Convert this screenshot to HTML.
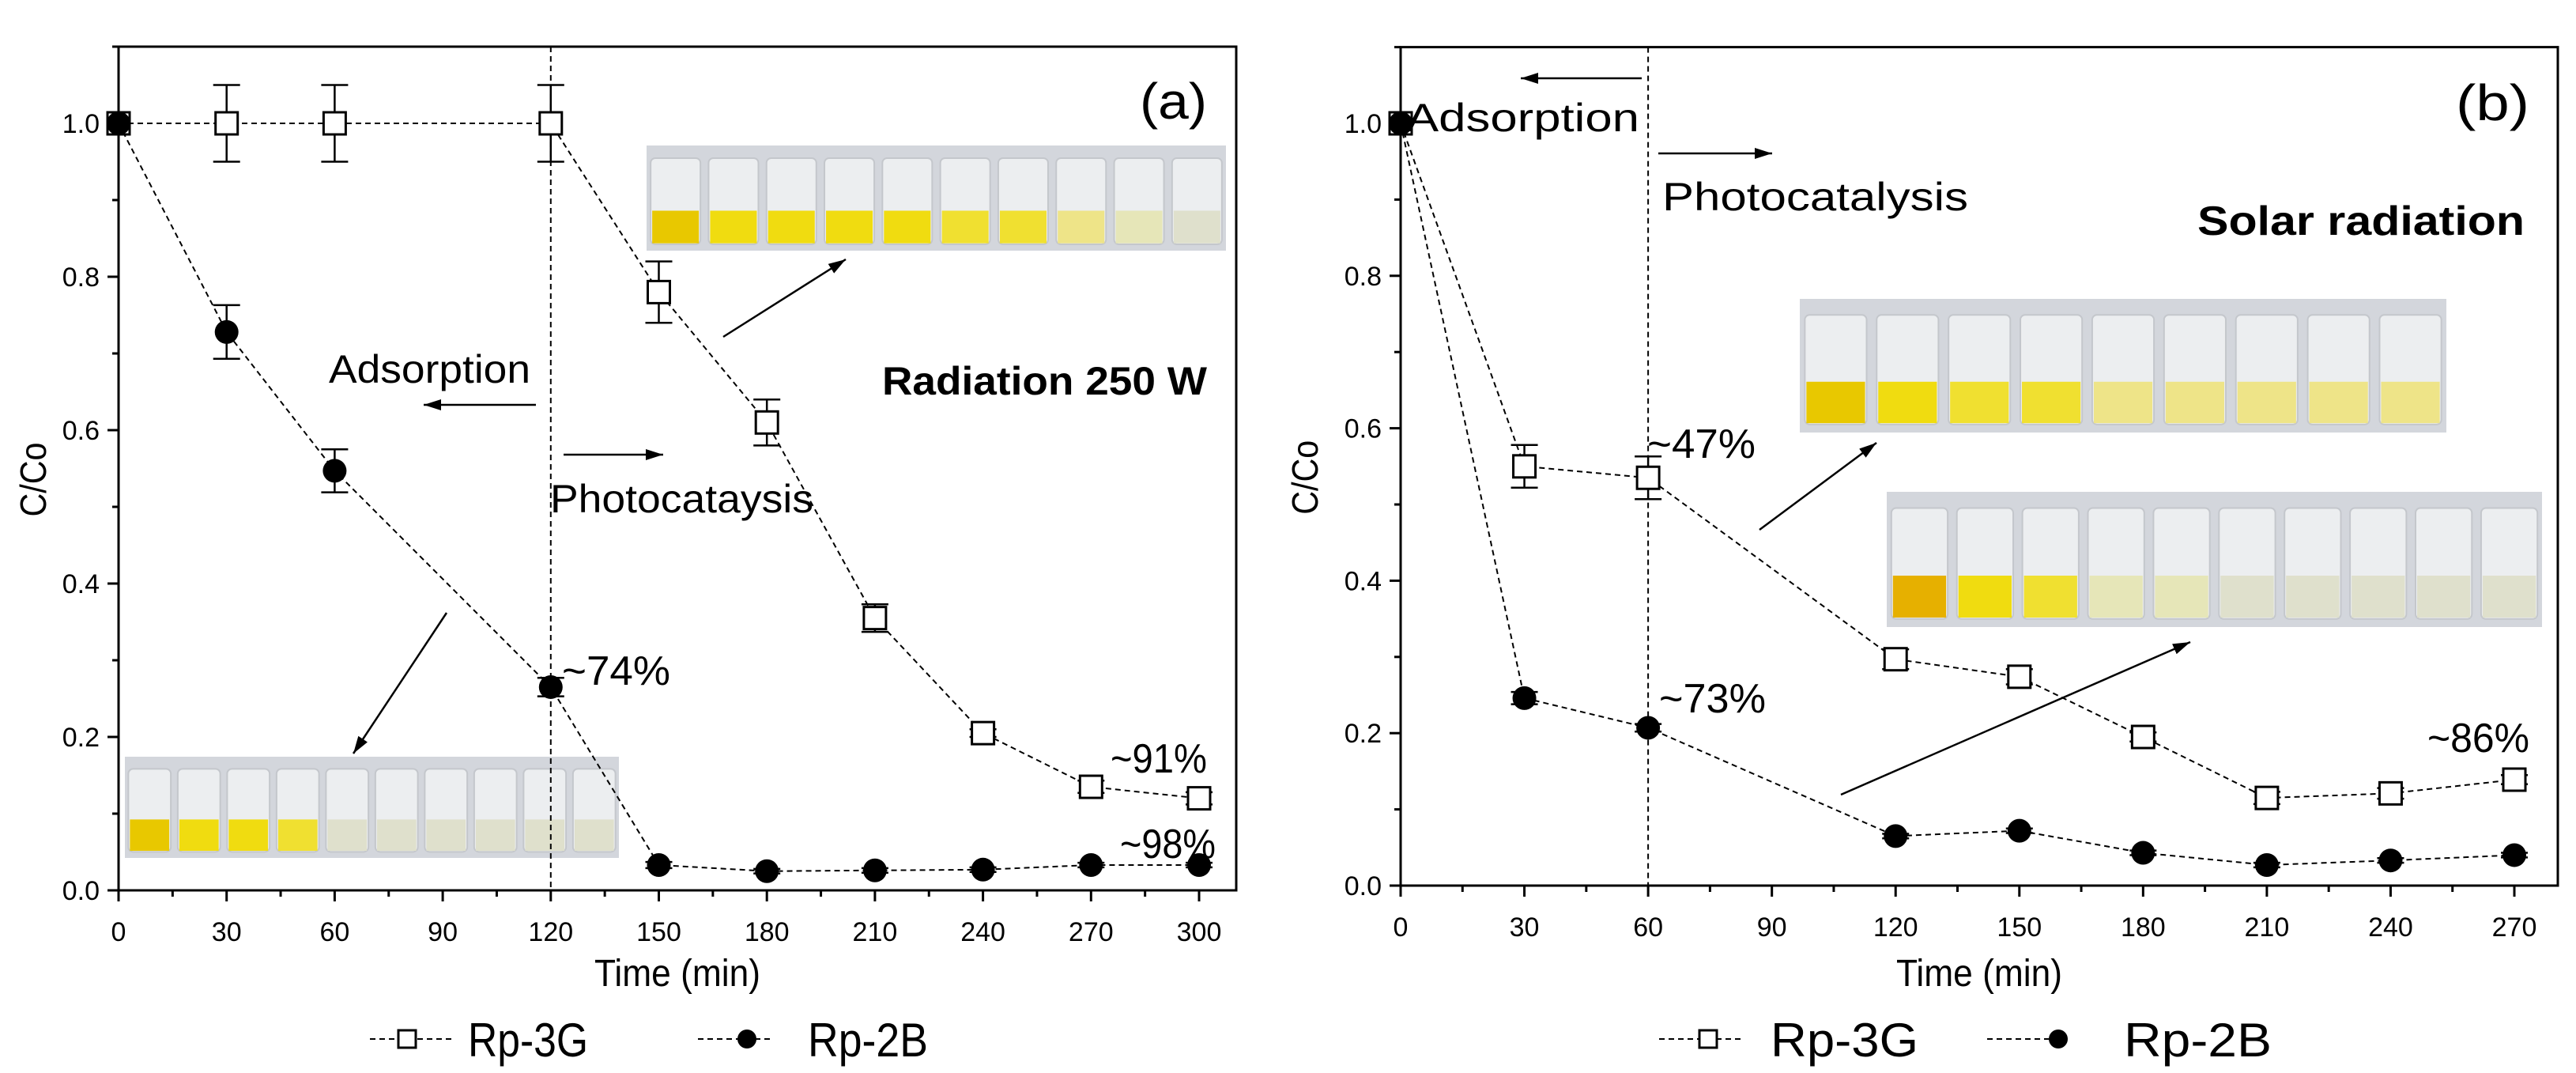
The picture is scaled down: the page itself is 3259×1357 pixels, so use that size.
<!DOCTYPE html>
<html><head><meta charset="utf-8"><style>
html,body{margin:0;padding:0;background:#fff}
svg{display:block;font-family:"Liberation Sans",Arial,sans-serif}
</style></head><body>
<svg id="c" width="3259" height="1357" viewBox="0 0 3259 1357" xmlns="http://www.w3.org/2000/svg"></svg>
<script>
const timesA = [0,30,60,120,150,180,210,240,270,300];
const rp3gA = [1,1,1,1,0.78,0.61,0.355,0.205,0.135,0.12];
const rp3gAErr = [0,0.05,0.05,0.05,0.04,0.03,0.018,0.005,0.008,0.008];
const rp2bA = [1,0.728,0.547,0.265,0.033,0.025,0.026,0.027,0.033,0.033];
const rp2bAErr = [0,0.035,0.028,0.012,0.004,0.003,0.003,0.003,0.003,0.003];
const timesB = [0,30,60,120,150,180,210,240,270];
const rp3gB = [1,0.55,0.535,0.297,0.274,0.195,0.115,0.121,0.139];
const rp3gBErr = [0,0.028,0.028,0.013,0.01,0.006,0.008,0.007,0.006];
const rp2bB = [1,0.246,0.207,0.065,0.072,0.043,0.027,0.033,0.040];
const rp2bBErr = [0,0.008,0.005,0.003,0.003,0.003,0.003,0.003,0.003];
const xTicksA = [0,30,60,90,120,150,180,210,240,270,300];
const xTicksB = [0,30,60,90,120,150,180,210,240,270];
const yTicks = [0,0.2,0.4,0.6,0.8,1.0];

const NS="http://www.w3.org/2000/svg";
const svg=document.getElementById('c');
function el(tag,attrs,parent){const e=document.createElementNS(NS,tag);for(const k in attrs)e.setAttribute(k,attrs[k]);(parent||svg).appendChild(e);return e;}
function txt(s,attrs,parent){const e=el('text',attrs,parent);e.textContent=s;return e;}
const defs=el('defs',{});
const mk2=el('marker',{id:'ah2',markerWidth:'22',markerHeight:'14',refX:'22',refY:'7',orient:'auto',markerUnits:'userSpaceOnUse'},defs);
el('path',{d:'M0,0 L22,7 L0,14 Z',fill:'#000'},mk2);

function panel(cfg){
  const g=el('g',{});
  
  
  const X=t=>cfg.x0+t/cfg.xmax*(cfg.x1-cfg.x0);
  const Y=v=>cfg.y0+v*(cfg.y1-cfg.y0);
  const top=Y(1.1);
  cfg.photos.forEach((p,pi)=>{
    const pg=el('g',{},g);
    
    
    el('rect',{x:p.x,y:p.y,width:p.w,height:p.h,fill:'#d3d6dc'},pg);
    const n=p.cols.length;const gap=p.w/n;
    p.cols.forEach((c,i)=>{
      const bx=p.x+i*gap+gap*0.07;
      const bw=gap*0.86;
      el('rect',{x:bx,y:p.y+p.h*0.12,width:bw,height:p.h*0.82,fill:'#eceef0',stroke:'#c4c7cc','stroke-width':2,rx:6},pg);
      el('rect',{x:bx+2,y:p.y+p.h*0.62,width:bw-4,height:p.h*0.31,fill:c},pg);
    });
  });
  const fr=el('rect',{x:cfg.x0,y:top,width:cfg.fr-cfg.x0,height:cfg.y0-top,fill:'none',stroke:'#000','stroke-width':3},g);
  
  const xt=cfg.xticks;const step=xt[1]-xt[0];
  for(let t=0;t<=cfg.xmax+0.1;t+=step/2){
    const major=Math.abs(t/step-Math.round(t/step))<1e-6;
    el('line',{x1:X(t),x2:X(t),y1:cfg.y0,y2:cfg.y0+(major?14:8),stroke:'#000','stroke-width':3},g);
  }
  xt.forEach(t=>{const l=txt(String(t),{x:X(t),y:cfg.y0+64,'font-size':34,'text-anchor':'middle'},g);
    });
  for(let v=0;v<=1.1001;v+=0.1){
    const major=Math.abs(v*5-Math.round(v*5))<1e-6;
    el('line',{x1:cfg.x0,x2:cfg.x0-(major?14:8),y1:Y(v),y2:Y(v),stroke:'#000','stroke-width':3},g);
  }
  yTicks.forEach(v=>{const l=txt(v.toFixed(1),{x:cfg.x0-24,y:Y(v)+12,'font-size':34,'text-anchor':'end'},g);
    });
  const xtit=txt('Time (min)',{x:(cfg.x0+cfg.fr)/2-105,y:1247,'font-size':48,textLength:210,lengthAdjust:'spacingAndGlyphs'},g);
  
  const ytit=txt('C/Co',{x:0,y:0,'font-size':46,textLength:94,lengthAdjust:'spacingAndGlyphs',transform:`translate(${cfg.ytx},${(top+cfg.y0)/2+61}) rotate(-90)`},g);
  
  const dv=el('line',{x1:X(cfg.div),x2:X(cfg.div),y1:top,y2:cfg.y0,stroke:'#000','stroke-width':2,'stroke-dasharray':'7,5'},g);
  
  function series(ts,vals,errs,type,name){
    const sg=el('g',{},g);
    
    
    el('polyline',{points:ts.map((t,i)=>X(t)+','+Y(vals[i])).join(' '),fill:'none',stroke:'#000','stroke-width':2,'stroke-dasharray':'7,5'},sg);
    ts.forEach((t,i)=>{
      const e=errs[i];
      if(e>0){const x=X(t);
        el('line',{x1:x,x2:x,y1:Y(vals[i]+e),y2:Y(vals[i]-e),stroke:'#000','stroke-width':2.5},sg);
        el('line',{x1:x-17,x2:x+17,y1:Y(vals[i]+e),y2:Y(vals[i]+e),stroke:'#000','stroke-width':2.5},sg);
        el('line',{x1:x-17,x2:x+17,y1:Y(vals[i]-e),y2:Y(vals[i]-e),stroke:'#000','stroke-width':2.5},sg);}
      let m;
      if(type==='sq') m=el('rect',{x:X(t)-14,y:Y(vals[i])-14,width:28,height:28,fill:'#fff',stroke:'#000','stroke-width':3},sg);
      else m=el('circle',{cx:X(t),cy:Y(vals[i]),r:15,fill:'#000'},sg);
      
      
    });
  }
  series(cfg.t,cfg.s1,cfg.e1,'sq','rp-3g-series');
  series(cfg.t,cfg.s2,cfg.e2,'ci','rp-2b-series');
  cfg.texts.forEach(a=>{const t=txt(a.s,{x:a.x,y:a.y,'font-size':a.f,'font-weight':a.b?'bold':'normal',textLength:a.l,lengthAdjust:'spacingAndGlyphs'},g);
    });
  cfg.arrows.forEach(a=>{const l=el('line',{x1:a[0],y1:a[1],x2:a[2],y2:a[3],stroke:'#000','stroke-width':2.5,'marker-end':'url(#ah2)'},g);
    });
  const lg=el('g',{},g);
  
  
  const L=cfg.leg;
  el('line',{x1:L[0],x2:L[1],y1:1314,y2:1314,stroke:'#000','stroke-width':2,'stroke-dasharray':'7,5'},lg);
  el('rect',{x:L[2]-11,y:1303,width:22,height:22,fill:'#fff',stroke:'#000','stroke-width':3},lg);
  const t1=txt('Rp-3G',{x:L[3],y:1336,'font-size':60,textLength:L[8],lengthAdjust:'spacingAndGlyphs'},lg);
  
  el('line',{x1:L[4],x2:L[5],y1:1314,y2:1314,stroke:'#000','stroke-width':2,'stroke-dasharray':'7,5'},lg);
  el('circle',{cx:L[6],cy:1314,r:12,fill:'#000'},lg);
  const t2=txt('Rp-2B',{x:L[7],y:1336,'font-size':60,textLength:L[8],lengthAdjust:'spacingAndGlyphs'},lg);
  
}
const Y1='#e8c800',Y2='#f0dc10',Y3='#f0e030',Y4='#eee488',Y5='#e6e6b8',Y6='#dfe0cc';
panel({name:'panel-a',x0:150,x1:1517,xmax:300,fr:1564,y0:1126,y1:156,xticks:xTicksA,ytx:58,div:120,
  t:timesA,s1:rp3gA,e1:rp3gAErr,s2:rp2bA,e2:rp2bAErr,
  photos:[{x:818,y:184,w:733,h:133,cols:[Y1,Y2,Y2,Y2,Y2,Y3,Y3,Y4,Y5,Y6]},
          {x:158,y:957,w:625,h:128,cols:[Y1,Y2,Y2,Y3,Y6,Y6,Y6,Y6,Y6,Y6]}],
  texts:[{s:'(a)',x:1442,y:150,f:64,l:85,n:'panel-label-a'},
    {s:'Radiation 250 W',x:1116,y:499,f:50,b:1,l:411,n:'condition-label'},
    {s:'Adsorption',x:416,y:484,f:50,l:255,n:'adsorption-label'},
    {s:'Photocataysis',x:696,y:648,f:50,l:333,n:'photocatalysis-label'},
    {s:'~74%',x:711,y:866,f:52,l:137,n:'removal-74'},
    {s:'~91%',x:1405,y:977,f:52,l:122,n:'removal-91'},
    {s:'~98%',x:1417,y:1085,f:52,l:121,n:'removal-98'}],
  arrows:[[678,512,536,512],[713,575,839,575],[915,426,1070,328],[565,775,447,953]],
  leg:[468,572,515,592,883,977,945,1022,152]});
panel({name:'panel-b',x0:1772,x1:3181,xmax:270,fr:3236,y0:1120,y1:156,xticks:xTicksB,ytx:1667,div:60,
  t:timesB,s1:rp3gB,e1:rp3gBErr,s2:rp2bB,e2:rp2bBErr,
  photos:[{x:2277,y:378,w:818,h:169,cols:[Y1,Y2,Y3,Y3,Y4,Y4,Y4,Y4,Y4]},
          {x:2387,y:622,w:829,h:171,cols:['#e6b000',Y2,Y3,Y5,Y5,Y6,Y6,Y6,Y6,Y6]}],
  texts:[{s:'(b)',x:3107,y:152,f:64,l:93,n:'panel-label-b'},
    {s:'Solar radiation',x:2780,y:297,f:52,b:1,l:414,n:'condition-label'},
    {s:'Adsorption',x:1779,y:166,f:50,l:295,n:'adsorption-label'},
    {s:'Photocatalysis',x:2103,y:266,f:50,l:387,n:'photocatalysis-label'},
    {s:'~47%',x:2084,y:579,f:52,l:137,n:'removal-47'},
    {s:'~73%',x:2099,y:901,f:52,l:135,n:'removal-73'},
    {s:'~86%',x:3071,y:951,f:52,l:129,n:'removal-86'}],
  arrows:[[2077,99,1924,99],[2098,194,2242,194],[2226,670,2374,560],[2329,1005,2771,812]],
  leg:[2099,2203,2161,2240,2514,2598,2604,2687,187]});
</script>
</body></html>
